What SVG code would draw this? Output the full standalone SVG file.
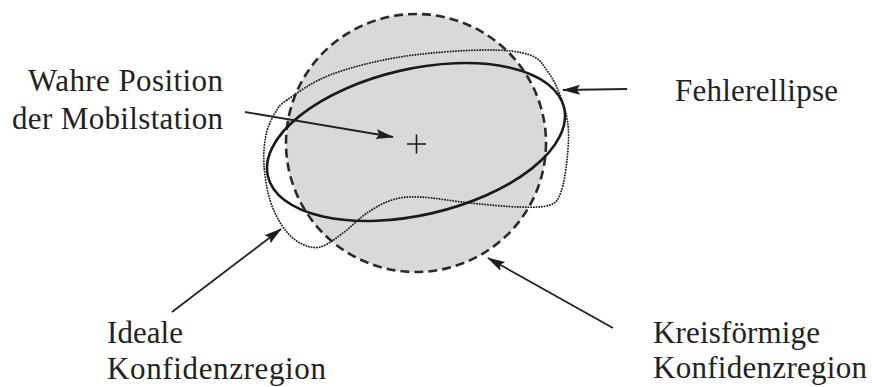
<svg xmlns="http://www.w3.org/2000/svg" width="872" height="387" viewBox="0 0 872 387">
<defs>
<marker id="ah" markerWidth="18" markerHeight="11" refX="17" refY="5.5" orient="auto" markerUnits="userSpaceOnUse">
<path d="M0,0.5 L18,5.5 L0,10.5 L3,5.5 Z" fill="#1e1e1e"/>
</marker>
</defs>
<style>
.lbl{font-family:"Liberation Serif","Times New Roman",serif;font-size:31px;fill:#222}
.arr{stroke:#222;stroke-width:1.8;fill:none;marker-end:url(#ah)}
</style>
<rect width="872" height="387" fill="#ffffff"/>
<g id="circle">
<ellipse cx="416" cy="143" rx="130" ry="129" fill="#d9d9d9" stroke="#2a2a2a" stroke-width="2.6" stroke-dasharray="9,5"/>
</g>
<g id="ideal-region">
<path d="M287,100 C296.2,93.7 311.2,82.2 330,75 C348.8,67.8 374.5,61.2 400,57 C425.5,52.8 461.3,50.3 483,50 C504.7,49.7 519.2,51.3 530,55 C540.8,58.7 543,65.3 548,72 C553,78.7 556.7,86.2 560,95 C563.3,103.8 566.8,114.2 568,125 C569.2,135.8 568.2,148.8 567,160 C565.8,171.2 563.8,184.5 561,192 C558.2,199.5 556.8,202.5 550,205 C543.2,207.5 533.3,207.3 520,207 C506.7,206.7 486.7,204.7 470,203 C453.3,201.3 433,197.5 420,197 C407,196.5 400.8,197.3 392,200 C383.2,202.7 375.2,207.5 367,213 C358.8,218.5 350.8,227.3 343,233 C335.2,238.7 327.2,245.3 320,247 C312.8,248.7 306.2,246.3 300,243 C293.8,239.7 288,234.2 283,227 C278,219.8 273.2,210.3 270,200 C266.8,189.7 264.7,175.8 264,165 C263.3,154.2 264.2,143.7 266,135 C267.8,126.3 271.5,118.8 275,113 C278.5,107.2 277.8,106.3 287,100 Z" fill="none" stroke="#222" stroke-width="1.9" stroke-dasharray="0.1,2.6" stroke-linecap="round"/>
</g>
<g id="error-ellipse">
<ellipse cx="416" cy="142" rx="152" ry="73" transform="rotate(-13 416 142)" fill="none" stroke="#1a1a1a" stroke-width="2.6"/>
</g>
<g id="true-position">
<path d="M407,144 H426 M416.5,134.5 V153.5" stroke="#1a1a1a" stroke-width="1.6"/>
</g>
<g id="connectors">
<line class="arr" x1="245" y1="112" x2="393" y2="137"/>
<line class="arr" x1="627" y1="89" x2="563" y2="90"/>
<line class="arr" x1="172" y1="312" x2="281" y2="229"/>
<line class="arr" x1="613" y1="328" x2="488" y2="258"/>
</g>
<g id="labels">
<text class="lbl" x="223" y="91" text-anchor="end" textLength="195">Wahre Position</text>
<text class="lbl" x="223" y="129" text-anchor="end" textLength="211">der Mobilstation</text>
<text class="lbl" x="675" y="101" textLength="163">Fehlerellipse</text>
<text class="lbl" x="107" y="343" textLength="76">Ideale</text>
<text class="lbl" x="107" y="379" textLength="219">Konfidenzregion</text>
<text class="lbl" x="653" y="343" textLength="167">Kreisförmige</text>
<text class="lbl" x="653" y="378" textLength="214">Konfidenzregion</text>
</g>
</svg>
